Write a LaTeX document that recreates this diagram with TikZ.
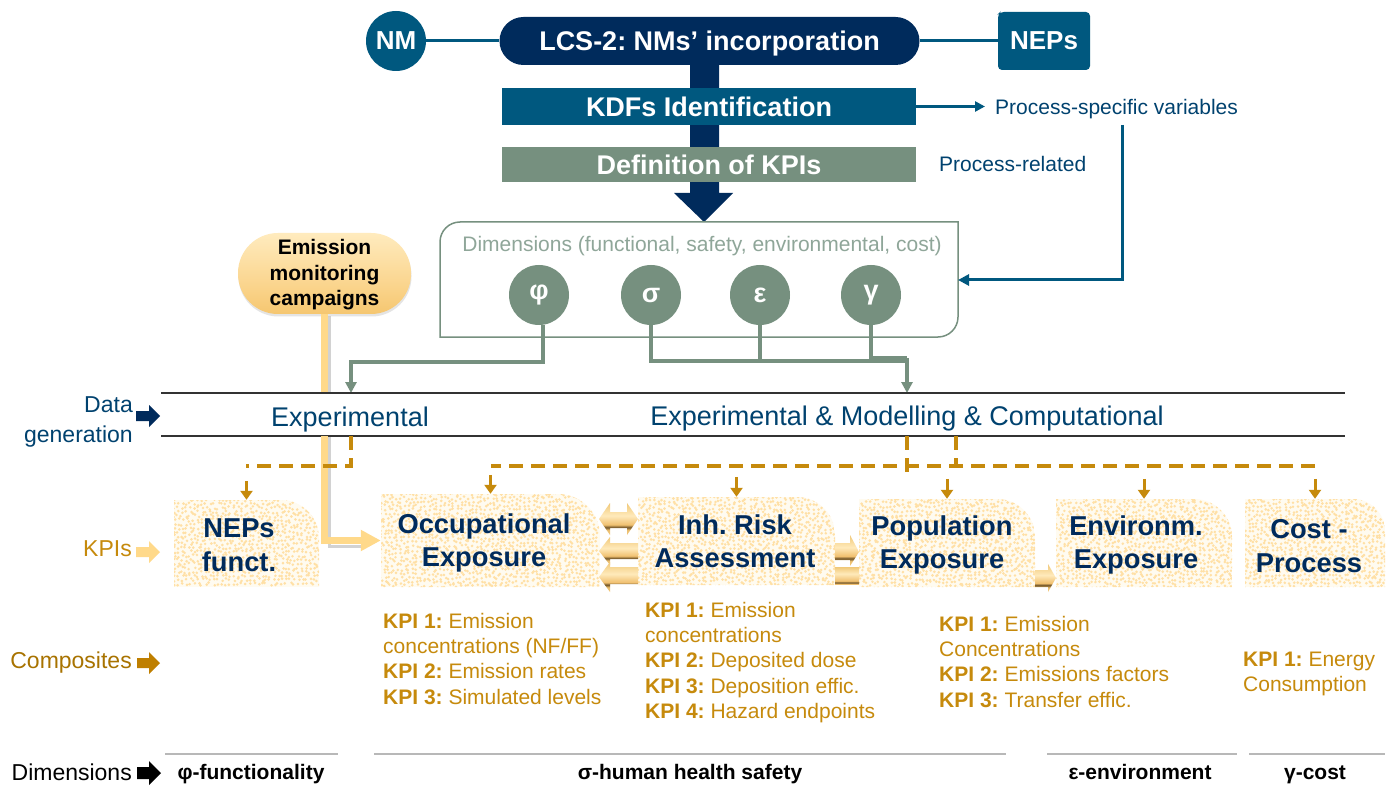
\documentclass[tikz,border=0pt]{standalone}
\usepackage{fontspec}
\setmainfont{Liberation Sans}
\usetikzlibrary{arrows.meta,calc}
\definecolor{navy}{HTML}{002B5C}
\definecolor{teal}{HTML}{00587F}
\definecolor{sage}{HTML}{76907F}
\definecolor{sagelt}{HTML}{8FA699}
\definecolor{txtblue}{HTML}{00426F}
\definecolor{amber}{HTML}{C68A0C}
\definecolor{brownish}{HTML}{A87300}
\definecolor{arrbrown}{HTML}{BF7F00}
\definecolor{pale}{HTML}{FFD98A}
\definecolor{rulegray}{HTML}{B8B8B8}
\definecolor{mA}{HTML}{F5C878}
\definecolor{mB}{HTML}{E9BE70}
\definecolor{mC}{HTML}{6E5226}
\definecolor{mD}{HTML}{F0C070}
\definecolor{mE}{HTML}{FFEABB}
\definecolor{mF}{HTML}{F0C878}
\definecolor{pA}{HTML}{F5C670}
\definecolor{pB}{HTML}{FAD48C}
\definecolor{pC}{HTML}{FFEBBE}
\definecolor{speckbase}{HTML}{FFFBF0}
\definecolor{speckdot}{HTML}{FFE0A6}
\pgfdeclareverticalshading{metal}{100bp}{color(0bp)=(mA);color(25bp)=(mA);color(33bp)=(mB);color(37bp)=(mC);color(41bp)=(mD);color(55bp)=(mE);color(75bp)=(mF);color(100bp)=(mF)}
\pgfdeclareverticalshading{metalbar}{100bp}{color(0bp)=(mD);color(25bp)=(mD);color(29bp)=(mC);color(34bp)=(mD);color(55bp)=(mE);color(75bp)=(mF);color(100bp)=(mF)}
\pgfdeclareverticalshading{pillsh}{100bp}{color(0bp)=(pA);color(25bp)=(pA);color(42bp)=(pB);color(75bp)=(pC);color(100bp)=(pC)}
\tikzset{
  lbl/.style={inner sep=0pt,font=\fontsize{21}{25}\selectfont},
  hd/.style={inner sep=0pt,text=white,font=\bfseries\fontsize{27}{32}\selectfont},
  circ/.style={circle,fill=sage,minimum size=60pt,inner sep=0pt,text=white,font=\bfseries\fontsize{27}{30}\selectfont},
  kbox/.style={inner sep=0pt},
  ktext/.style={inner sep=0pt,align=center,text=navy,font=\bfseries\fontsize{27.3}{33.5}\selectfont},
  kpilist/.style={inner sep=0pt,anchor=north west,align=left,text=amber,font=\fontsize{21}{25.2}\selectfont},
  dimt/.style={inner sep=0pt,anchor=base,font=\bfseries\fontsize{21}{25}\selectfont},
  tealln/.style={draw=teal,line width=3pt},
  greenln/.style={draw=sage,line width=3.2pt},
  dashln/.style={draw=amber,line width=3.4pt,dash pattern=on 14pt off 8pt},
  stemln/.style={draw=amber,line width=3pt,-{Triangle[length=9pt,width=12pt]}},
  rowrule/.style={draw=black!80,line width=1.3pt},
  dimrule/.style={draw=rulegray,line width=1.4pt},
  sidelbl/.style={inner sep=0pt,anchor=east,font=\fontsize{23}{30}\selectfont},
}
\newcommand{\speckbox}[7]{% name, x1,y1,x2,y2,r, seed
  \begin{scope}
    \clip (#2,#3) -- ({#4-#6},#3) .. controls ({#4-0.45*#6},#3) and (#4,{#3+0.45*#6}) .. (#4,{#3+#6}) -- (#4,#5) -- (#2,#5) -- cycle;
    \fill[speckbase] (#2,#3) rectangle (#4,#5);
    \pgfmathsetseed{#7}
    \pgfmathtruncatemacro{\xa}{#2}\pgfmathtruncatemacro{\xb}{#2+4}\pgfmathtruncatemacro{\xc}{#4}
    \pgfmathtruncatemacro{\ya}{#3}\pgfmathtruncatemacro{\yb}{#3+4}\pgfmathtruncatemacro{\yc}{#5}
    \fill[speckdot] \foreach \i in {\xa,\xb,...,\xc}{\foreach \j in {\ya,\yb,...,\yc}{(\i+1.6*rand,\j+1.6*rand) circle (1.45)}};
  \end{scope}
  \node[kbox,minimum width={(#4-#2)*1pt},minimum height={(#5-#3)*1pt}] (#1) at ({(#2+#4)/2},{(#3+#5)/2}) {};
}
\begin{document}
\frenchspacing
\begin{tikzpicture}[x=1pt,y=-1pt]
\useasboundingbox (0,0) rectangle (1392,786);
\fill[white] (0,0) rectangle (1392,786);

% thick central shaft
\node[rectangle,rounded corners=24pt,fill=navy,minimum width=420pt,minimum height=48pt,inner sep=0pt] (lcs) at (709.5,41) {};
\coordinate (shaftend) at (704,222);
\fill[navy] (690,60) -- (719,60) -- (719,193) -- (733,193) -- (shaftend) -- (674,193) -- (690,193) -- cycle;
\node[hd,text=white,anchor=base] (lcst) at (709.5,51) {LCS-2: NMs’ incorporation};

\node[circle,fill=teal,minimum size=60pt,inner sep=0pt,text=white,font=\bfseries\fontsize{26}{30}\selectfont] (nm) at (396,41) {NM};
\fill[teal,rounded corners=4pt] (1000,12) -- (1090,12) -- (1090,70) -- (998,70) -- (998,14) -- cycle;
\node[inner sep=0pt,text=white,font=\bfseries\fontsize{26}{30}\selectfont,minimum width=92pt,minimum height=58pt] (neps) at (1044,41) {NEPs};
\draw[tealln] (nm) -- (lcs);
\draw[tealln] (lcs) -- (neps);

\node[rectangle,fill=teal,minimum width=414pt,minimum height=37pt,inner sep=0pt,text=white,font=\bfseries\fontsize{27}{32}\selectfont] (kdf) at (709,106.5) {KDFs Identification};
\node[rectangle,fill=sage,minimum width=414pt,minimum height=35pt,inner sep=0pt,text=white,font=\bfseries\fontsize{27}{32}\selectfont] (def) at (709,164.5) {Definition of KPIs};

\node[lbl,anchor=west,text=txtblue] (psv) at (995,109) {Process-specific variables};
\node[lbl,anchor=west,text=txtblue] (prel) at (939,164) {Process-related};
\coordinate (psvtip) at (985,106.5);
\draw[teal,line width=2.8pt,-{Triangle[length=10pt,width=10pt]}] (kdf) -- (psvtip);

% dimensions box
\draw[sage,line width=1.5pt] (460,222) -- (958,222) -- (958,317) arc[start angle=0,end angle=90,radius=20] -- (440,337) -- (440,242) arc[start angle=180,end angle=270,radius=20] -- cycle;
\node[inner sep=0pt,text=sagelt,font=\fontsize{21}{25}\selectfont] (dimlab) at (702,246) {Dimensions (functional, safety, environmental, cost)};
\node[circ] (phi) at (539,295) {φ};
\node[circ] (sig) at (651,295) {σ};
\node[circ] (eps) at (760,295) {ε};
\node[circ] (gam) at (871,295) {γ};
\coordinate (dimin) at (958,280);
\coordinate (psvdown) at (1122,125);
\draw[teal,line width=3pt,-{Triangle[length=11pt,width=11pt]}] (psvdown) |- (dimin);

% rows
\coordinate (r1l) at (161,393);\coordinate (r1r) at (1345,393);
\coordinate (r2l) at (161,436);\coordinate (r2r) at (1345,436);
\coordinate (exptop) at (351,393);\coordinate (embot) at (351,436);
\coordinate (allt) at (907,393);\coordinate (allb) at (907,436);
\coordinate (allb2) at (956,436);

% emission pill and its connector
\fill[gray,opacity=.35] (328,316) rectangle (331,392);
\fill[gray,opacity=.35] (328,436) rectangle (331,545);
\fill[gray,opacity=.35] (328,545) rectangle (366,548);
\node[rectangle,rounded corners=40pt,fill=gray!60,opacity=.35,minimum width=173pt,minimum height=81pt,inner sep=0pt] at (325,276) {};
\node[rectangle,rounded corners=40pt,shading=pillsh,minimum width=173pt,minimum height=81pt,inner sep=0pt] (emis) at (324.5,273.5) {};
\node[inner sep=0pt,align=center,font=\bfseries\fontsize{21}{25.5}\selectfont] (emist) at (324.5,275) {Emission\\monitoring\\campaigns};
\draw[pale,line width=6.5pt] (emis.south) -- (emis.south |- r1l);

\draw[greenln,-{Triangle[length=11pt,width=11pt]}] ([xshift=4pt]phi.south) |- (351,362) -- (exptop);
\draw[greenln] (sig.south) |- (907,361);
\draw[greenln] (eps.south) -- (eps.south |- 0,361);
\draw[greenln] (gam.south) |- (907,358);
\draw[greenln,-{Triangle[length=11pt,width=11pt]}] (907,358) -- (allt);

\draw[rowrule] (r1l) -- (r1r);
\draw[rowrule] (r2l) -- (r2r);
\node[inner sep=0pt,text=txtblue,anchor=base,font=\fontsize{27}{30}\selectfont] (expn) at (350,426) {Experimental};
\node[inner sep=0pt,text=txtblue,anchor=base,font=\fontsize{27}{30}\selectfont] (emc) at (907,425) {Experimental \& Modelling \& Computational};

% KPI boxes
\speckbox{nepf}{174}{500}{319}{587}{38}{11}
\speckbox{occ}{381}{494}{600}{587}{42}{22}
\speckbox{inh}{638}{497}{835}{585}{38}{33}
\speckbox{pop}{859}{499}{1035}{587}{38}{44}
\speckbox{env}{1056}{499}{1232}{587}{38}{55}
\speckbox{cost}{1245}{499}{1385}{587}{32}{66}
\node[ktext] (nepft) at (239,545) {NEPs\\funct.};
\node[ktext] (occt) at (484,543) {Occupational\\Exposure};
\node[ktext] (inht) at (735,541) {Inh. Risk\\Assessment};
\node[ktext] (popt) at (942,545) {Population\\Exposure};
\node[ktext] (envt) at (1136,545) {Environm.\\Exposure};
\node[ktext] (costt) at (1309,546) {Cost -\\Process};

% yellow connector to Occupational box
\draw[pale,line width=6.5pt,-{Triangle[length=20pt,width=20pt]}] (emis.south |- r2l) |- (occ.west);

% dashed links
\coordinate (tr) at (491,466);
\draw[dashln] (embot) -- (351,466) -- (246,466);
\draw[dashln] (allb) -- (907,474);
\draw[dashln] (allb2) -- (956,466);
\draw[dashln] (1315,466) -- (tr);
\draw[stemln] ($(nepf.north)+(0,-19)$) -- (nepf.north);
\draw[stemln] ($(occ.north)+(0,-19)$) -- (occ.north);
\draw[stemln] ($(inh.north)+(0,-20)$) -- (inh.north);
\draw[stemln] ($(pop.north)+(0,-20)$) -- (pop.north);
\draw[stemln] ($(env.north)+(0,-20)$) -- (env.north);
\draw[stemln] ($(cost.north)+(0,-20)$) -- (cost.north);

% metal arrows
\shade[shading=metal] (599,519) -- (610,503) -- (610,512) -- (627,512) -- (627,503) -- (638,519) -- (627,535) -- (627,528) -- (610,528) -- (610,535) -- cycle;
\shade[shading=metal] (599,551) -- (610,537) -- (610,543) -- (638,543) -- (638,559) -- (610,559) -- (610,565) -- cycle;
\shade[shading=metal] (599,577) -- (610,562) -- (610,567) -- (638,567) -- (638,584) -- (610,584) -- (610,592) -- cycle;
\shade[shading=metal] (859,552) -- (850,535) -- (850,543) -- (835,543) -- (835,560) -- (850,560) -- (850,566) -- cycle;
\shade[shading=metalbar] (835,567) rectangle (859,584);
\shade[shading=metal] (1056,578) -- (1048,564) -- (1048,570) -- (1035,570) -- (1035,587) -- (1048,587) -- (1048,592) -- cycle;

% KPI lists
\node[kpilist] (l1) at (383,613) {\textbf{KPI 1:} Emission\\concentrations (NF/FF)\\\textbf{KPI 2:} Emission rates\\\textbf{KPI 3:} Simulated levels};
\node[kpilist] (l2) at (645,602) {\textbf{KPI 1:} Emission\\concentrations\\\textbf{KPI 2:} Deposited dose\\\textbf{KPI 3:} Deposition effic.\\\textbf{KPI 4:} Hazard endpoints};
\node[kpilist] (l3) at (939,616) {\textbf{KPI 1:} Emission\\Concentrations\\\textbf{KPI 2:} Emissions factors\\\textbf{KPI 3:} Transfer effic.};
\node[kpilist] (l4) at (1243,652) {\textbf{KPI 1:} Energy\\Consumption};

% left labels
\node[sidelbl,align=right,text=txtblue] (dg) at (133,422) {Data\\generation};
\node[sidelbl,text=amber] (kl) at (132,549) {KPIs};
\node[sidelbl,text=brownish] (cl) at (132,663) {Composites};
\node[sidelbl,text=black] (dl) at (132,772) {Dimensions};
\fill[navy] (136,411) -- (149,411) -- (149,405) -- (160,416) -- (149,427) -- (149,421) -- (136,421) -- cycle;
\fill[pale] (136,547) -- (149,547) -- (149,541) -- (160,552) -- (149,563) -- (149,557) -- (136,557) -- cycle;
\fill[arrbrown] (137,658) -- (149,658) -- (149,652) -- (160,663) -- (149,674) -- (149,668) -- (137,668) -- cycle;
\fill[black] (137,767) -- (149,767) -- (149,761) -- (161,773) -- (149,785) -- (149,779) -- (137,779) -- cycle;

% bottom dimensions
\draw[dimrule] (165,754) -- (338,754);
\draw[dimrule] (374,754) -- (1006,754);
\draw[dimrule] (1047,754) -- (1237,754);
\draw[dimrule] (1249,754) -- (1385,754);
\node[dimt] (d1) at (251,779) {φ-functionality};
\node[dimt] (d2) at (690,779) {σ-human health safety};
\node[dimt] (d3) at (1140,779) {ε-environment};
\node[dimt] (d4) at (1315,779) {γ-cost};
\end{tikzpicture}
\end{document}
